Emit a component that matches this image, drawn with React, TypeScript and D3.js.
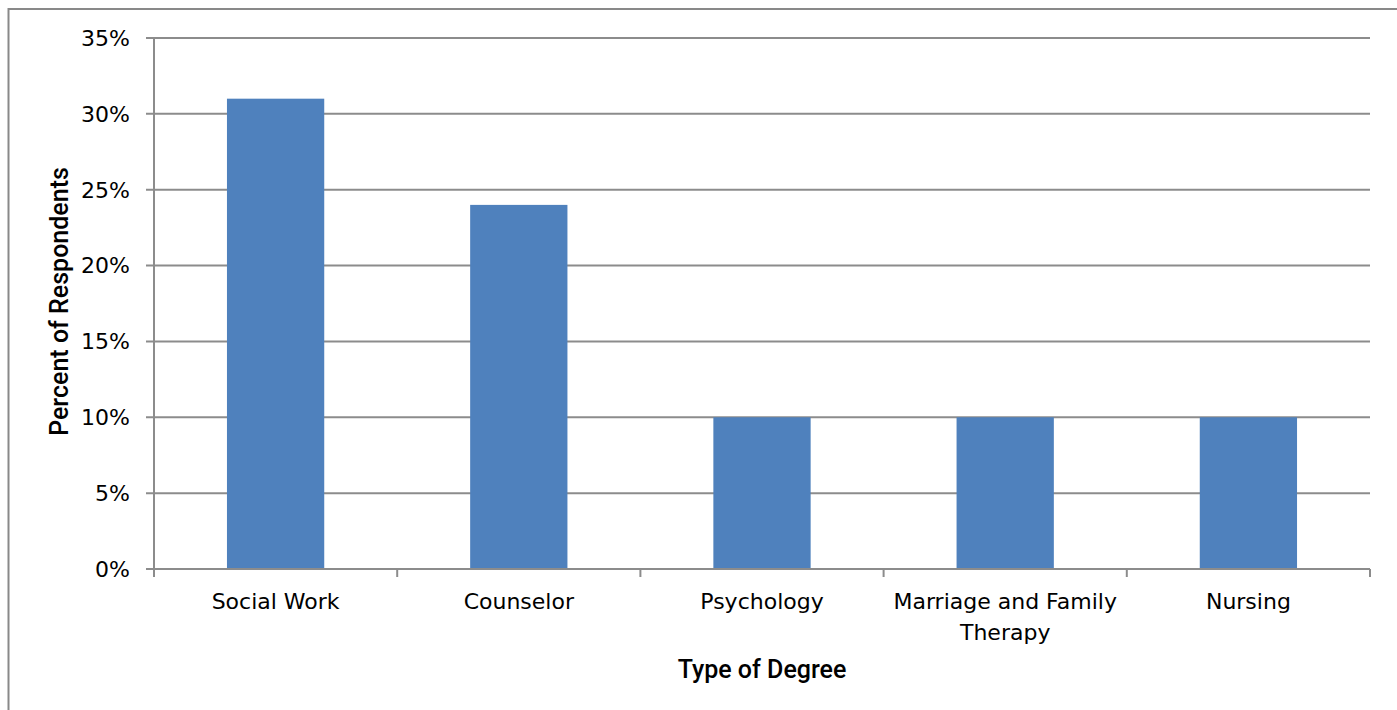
import React from "react";
import * as d3 from "d3";

const categories: string[][] = [
  ["Social Work"],
  ["Counselor"],
  ["Psychology"],
  ["Marriage and Family", "Therapy"],
  ["Nursing"],
];
const values: number[] = [0.31, 0.24, 0.1, 0.1, 0.1];
const yTicks: number[] = [0, 0.05, 0.1, 0.15, 0.2, 0.25, 0.3, 0.35];
const yTitle = "Percent of Respondents";
const xTitle = "Type of Degree";

const W = 1397;
const H = 710;
const left = 154;
const right = 1370;
const top = 38;
const bottom = 569;

export default function App() {
  const keys = categories.map((c) => c.join(" "));
  const x = d3.scaleBand<string>().domain(keys).range([left, right]).paddingInner(0).paddingOuter(0);
  const y = d3.scaleLinear().domain([0, 0.35]).range([bottom, top]);
  const bw = x.bandwidth();
  const barW = bw * 0.4;
  const fmt = d3.format(".0%");
  const boundaries = keys.map((k) => x(k) as number).concat([right]);
  const font = "'DejaVu Sans', 'Liberation Sans', Arial, sans-serif";
  const titleFont = "Roboto, 'Liberation Sans', sans-serif";

  return (
    <svg
      width={W}
      height={H}
      style={{ position: "absolute", left: 0, top: 0, display: "block" }}
    >
      <rect x={0} y={0} width={W} height={H} fill="#fff" />
      <rect x={8.5} y={9} width={W + 20} height={H + 20} fill="none" stroke="#898989" strokeWidth={2} />
      {/* gridlines */}
      {yTicks.map((t) => (
        <line key={"g" + t} x1={left - 8} x2={right} y1={y(t)} y2={y(t)} stroke="#8c8c8c" strokeWidth={2} />
      ))}
      {/* y axis line */}
      <line x1={left} x2={left} y1={top} y2={bottom} stroke="#8c8c8c" strokeWidth={2} />
      {/* bars */}
      {values.map((v, i) => (
        <rect
          key={keys[i]}
          x={(x(keys[i]) as number) + (bw - barW) / 2}
          y={y(v)}
          width={barW}
          height={bottom - y(v)}
          fill="#4F81BD"
        />
      ))}
      {/* x axis */}
      <line x1={left} x2={right} y1={bottom} y2={bottom} stroke="#8c8c8c" strokeWidth={2} />
      {boundaries.map((b, i) => (
        <line key={"xt" + i} x1={b} x2={b} y1={bottom} y2={bottom + 8} stroke="#8c8c8c" strokeWidth={2} />
      ))}
      {/* y tick labels */}
      {yTicks.map((t) => (
        <text key={"yl" + t} x={130} y={y(t)} dy="0.36em" textAnchor="end" fontFamily={font} fontSize={22} fill="#000">
          {fmt(t)}
        </text>
      ))}
      {/* category labels */}
      {categories.map((lines, i) => (
        <text
          key={"cl" + i}
          x={(x(keys[i]) as number) + bw / 2}
          y={609}
          textAnchor="middle"
          fontFamily={font}
          fontSize={22}
          fill="#000"
        >
          {lines.map((l, j) => (
            <tspan key={j} x={(x(keys[i]) as number) + bw / 2} dy={j === 0 ? 0 : 31}>
              {l}
            </tspan>
          ))}
        </text>
      ))}
      {/* axis titles */}
      <text
        x={(left + right) / 2}
        y={678}
        textAnchor="middle"
        fontFamily={titleFont}
        fontWeight={500}
        fontSize={25}
        fill="#000"
      >
        {xTitle}
      </text>
      <text
        transform={`translate(68, ${(top + bottom) / 2 - 2}) rotate(-90)`}
        textAnchor="middle"
        fontFamily={titleFont}
        fontWeight={500}
        fontSize={25}
        fill="#000"
      >
        {yTitle}
      </text>
    </svg>
  );
}
